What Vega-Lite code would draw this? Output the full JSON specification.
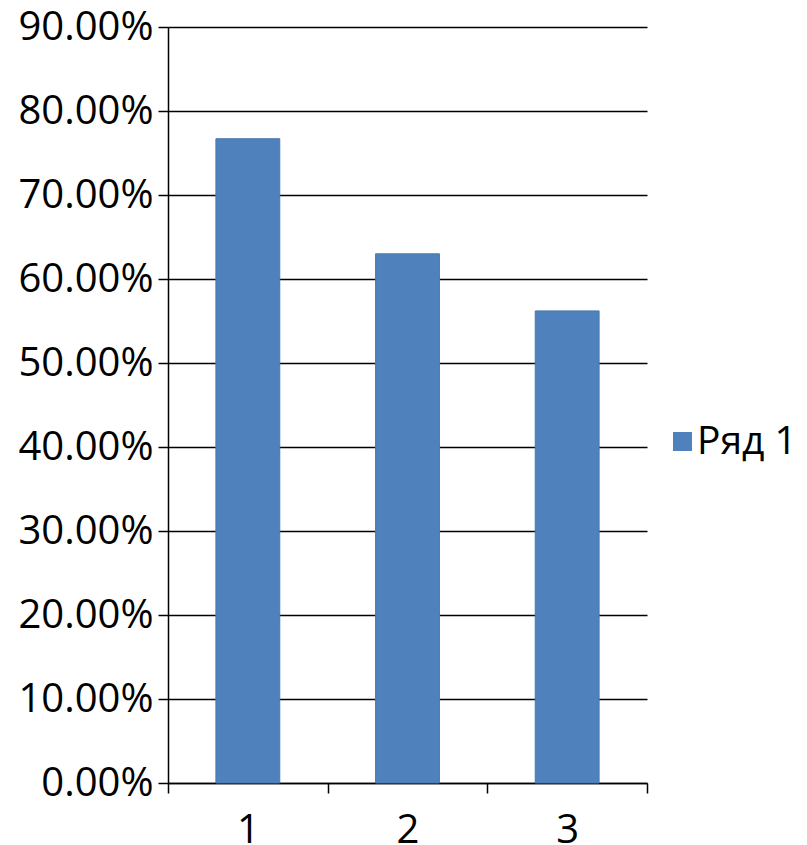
{
  "$schema": "https://vega.github.io/schema/vega-lite/v6.json",
  "autosize": {"type": "none"},
  "padding": {"left": 168, "top": 27, "right": 160, "bottom": 62},
  "width": 479,
  "height": 756,
  "background": "white",
  "data": {
    "values": [
      {"cat": "1", "value": 0.767, "series": "Ряд 1"},
      {"cat": "2", "value": 0.630, "series": "Ряд 1"},
      {"cat": "3", "value": 0.562, "series": "Ряд 1"}
    ]
  },
  "mark": {"type": "bar", "width": {"band": 0.4}, "stroke": "#4a78b0", "strokeWidth": 1},
  "encoding": {
    "x": {
      "field": "cat",
      "type": "ordinal",
      "scale": {"paddingInner": 0, "paddingOuter": 0},
      "axis": {
        "title": null,
        "labelAngle": 0,
        "tickBand": "extent",
        "tickSize": 10,
        "labelBaseline": "alphabetic",
        "labelPadding": 49,
        "grid": false
      }
    },
    "y": {
      "field": "value",
      "type": "quantitative",
      "scale": {"domain": [0, 0.9], "nice": false},
      "axis": {
        "title": null,
        "format": ".2%",
        "values": [0, 0.1, 0.2, 0.3, 0.4, 0.5, 0.6, 0.7, 0.8, 0.9],
        "tickSize": 10,
        "labelPadding": 5,
        "grid": true
      }
    },
    "color": {
      "field": "series",
      "type": "nominal",
      "scale": {"range": ["#4F81BD"]},
      "legend": {
        "title": null,
        "orient": "none",
        "legendX": 495,
        "legendY": 395,
        "symbolType": "square",
        "symbolSize": 361,
        "symbolStrokeWidth": 0,
        "labelFontSize": 39,
        "labelFont": "Open Sans",
        "labelColor": "#000",
        "labelOffset": -5,
        "padding": 0
      }
    }
  },
  "config": {
    "view": {"stroke": null},
    "axis": {
      "labelFont": "Open Sans",
      "labelFontSize": 40,
      "labelColor": "#000",
      "domainColor": "#000",
      "domainWidth": 1.5,
      "tickColor": "#000",
      "tickWidth": 1.5,
      "gridColor": "#000",
      "gridWidth": 1.5,
      "gridOpacity": 1
    }
  }
}
